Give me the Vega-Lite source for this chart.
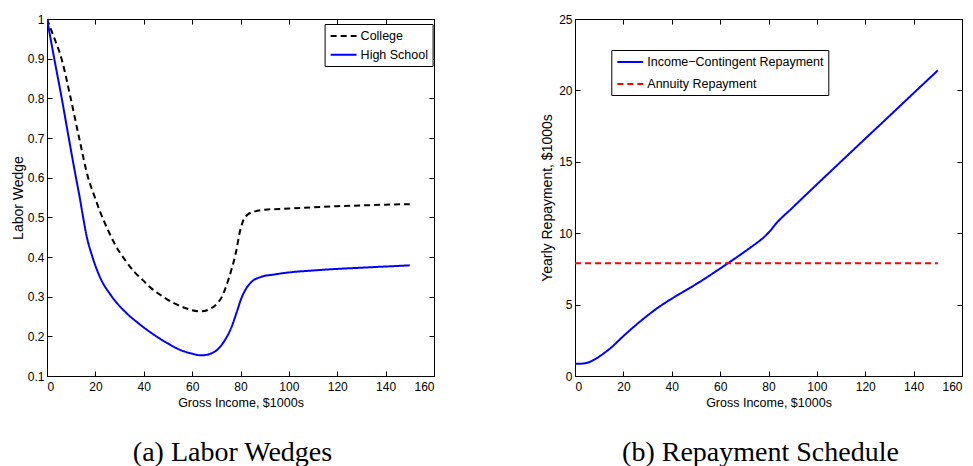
{
  "$schema": "https://vega.github.io/schema/vega-lite/v6.json",
  "background": "white",
  "padding": {"left": 10, "top": 12, "right": 0, "bottom": 0},
  "spacing": 105,
  "config": {
    "view": {"stroke": "black", "strokeWidth": 1},
    "axis": {
      "grid": false, "domainColor": "black", "tickColor": "black",
      "labelColor": "black", "titleColor": "black",
      "labelFont": "Liberation Sans", "titleFont": "Liberation Sans",
      "labelFontSize": 12, "titleFontSize": 12.5, "titleFontWeight": "normal",
      "tickSize": -5, "domainWidth": 1, "tickWidth": 1
    },
    "axisX": {"labelPadding": 10, "titlePadding": 4},
    "axisY": {"labelPadding": 8, "titleFontSize": 14},
    "legend": {
      "symbolType": "M-0.85,0H2.85", "symbolSize": 196, "symbolStrokeWidth": 2,
      "labelFont": "Liberation Sans", "labelFontSize": 12.5, "labelColor": "black", "labelLimit": 0,
      "strokeColor": "black", "fillColor": "white", "padding": 4, "labelOffset": 16
    },
    "title": {"font": "Liberation Serif", "fontSize": 28, "fontWeight": "normal", "color": "black"}
  },
  "hconcat": [
    {
      "width": 387, "height": 357,
      "title": {"text": "(a) Labor Wedges", "orient": "bottom", "frame": "group", "offset": 30, "dx": -8},
      "data": {"values": [
        {"x": 0, "y": 1.0, "series": "College"},
        {"x": 2.5, "y": 0.96, "series": "College"},
        {"x": 6.0, "y": 0.9, "series": "College"},
        {"x": 9.8, "y": 0.8, "series": "College"},
        {"x": 13.3, "y": 0.7, "series": "College"},
        {"x": 17.0, "y": 0.6, "series": "College"},
        {"x": 19.7, "y": 0.552, "series": "College"},
        {"x": 21.7, "y": 0.518, "series": "College"},
        {"x": 25.2, "y": 0.468, "series": "College"},
        {"x": 27.9, "y": 0.434, "series": "College"},
        {"x": 32.8, "y": 0.388, "series": "College"},
        {"x": 36.2, "y": 0.362, "series": "College"},
        {"x": 39.7, "y": 0.341, "series": "College"},
        {"x": 42.4, "y": 0.325, "series": "College"},
        {"x": 47, "y": 0.304, "series": "College"},
        {"x": 52, "y": 0.285, "series": "College"},
        {"x": 56.9, "y": 0.272, "series": "College"},
        {"x": 60, "y": 0.266, "series": "College"},
        {"x": 63.8, "y": 0.263, "series": "College"},
        {"x": 67, "y": 0.268, "series": "College"},
        {"x": 70.7, "y": 0.285, "series": "College"},
        {"x": 72.5, "y": 0.302, "series": "College"},
        {"x": 74.1, "y": 0.327, "series": "College"},
        {"x": 76.2, "y": 0.367, "series": "College"},
        {"x": 78.3, "y": 0.417, "series": "College"},
        {"x": 79.6, "y": 0.46, "series": "College"},
        {"x": 81, "y": 0.49, "series": "College"},
        {"x": 83, "y": 0.507, "series": "College"},
        {"x": 86, "y": 0.515, "series": "College"},
        {"x": 90, "y": 0.519, "series": "College"},
        {"x": 100, "y": 0.522, "series": "College"},
        {"x": 110, "y": 0.525, "series": "College"},
        {"x": 120, "y": 0.528, "series": "College"},
        {"x": 130, "y": 0.53, "series": "College"},
        {"x": 140, "y": 0.532, "series": "College"},
        {"x": 150, "y": 0.533, "series": "College"},
        {"x": 0, "y": 1.0, "series": "High School"},
        {"x": 3, "y": 0.9, "series": "High School"},
        {"x": 6.1, "y": 0.8, "series": "High School"},
        {"x": 9, "y": 0.7, "series": "High School"},
        {"x": 12.1, "y": 0.596, "series": "High School"},
        {"x": 13.5, "y": 0.551, "series": "High School"},
        {"x": 14.8, "y": 0.505, "series": "High School"},
        {"x": 16.3, "y": 0.455, "series": "High School"},
        {"x": 18.7, "y": 0.402, "series": "High School"},
        {"x": 21.7, "y": 0.352, "series": "High School"},
        {"x": 26.6, "y": 0.302, "series": "High School"},
        {"x": 32.8, "y": 0.259, "series": "High School"},
        {"x": 38, "y": 0.232, "series": "High School"},
        {"x": 45.2, "y": 0.2, "series": "High School"},
        {"x": 50, "y": 0.182, "series": "High School"},
        {"x": 55, "y": 0.166, "series": "High School"},
        {"x": 59.5, "y": 0.157, "series": "High School"},
        {"x": 63.8, "y": 0.152, "series": "High School"},
        {"x": 67, "y": 0.155, "series": "High School"},
        {"x": 70.7, "y": 0.168, "series": "High School"},
        {"x": 73.5, "y": 0.19, "series": "High School"},
        {"x": 76.2, "y": 0.222, "series": "High School"},
        {"x": 78.5, "y": 0.262, "series": "High School"},
        {"x": 80.3, "y": 0.295, "series": "High School"},
        {"x": 82.5, "y": 0.322, "series": "High School"},
        {"x": 84.5, "y": 0.337, "series": "High School"},
        {"x": 88.6, "y": 0.35, "series": "High School"},
        {"x": 94, "y": 0.356, "series": "High School"},
        {"x": 100, "y": 0.361, "series": "High School"},
        {"x": 110, "y": 0.366, "series": "High School"},
        {"x": 120, "y": 0.37, "series": "High School"},
        {"x": 130, "y": 0.373, "series": "High School"},
        {"x": 140, "y": 0.376, "series": "High School"},
        {"x": 150, "y": 0.379, "series": "High School"}
      ]},
      "layer": [
        {
          "mark": {"type": "line", "strokeWidth": 2, "clip": true, "interpolate": "monotone"},
          "encoding": {
            "x": {"field": "x", "type": "quantitative",
              "scale": {"domain": [0, 160], "nice": false},
              "axis": {"values": [0, 20, 40, 60, 80, 100, 120, 140, 160], "title": "Gross Income, $1000s"}},
            "y": {"field": "y", "type": "quantitative",
              "scale": {"domain": [0.1, 1], "nice": false, "zero": false},
              "axis": {"values": [0.1, 0.2, 0.3, 0.4, 0.5, 0.6, 0.7, 0.8, 0.9, 1], "format": "~g", "title": "Labor Wedge", "titlePadding": 2}},
            "color": {"field": "series", "type": "nominal",
              "scale": {"domain": ["College", "High School"], "range": ["#000000", "#0000ff"]},
              "legend": {"title": null, "orient": "none", "legendX": 277.6, "legendY": 5, "rowPadding": 3.7}},
            "strokeDash": {"field": "series", "type": "nominal",
              "scale": {"domain": ["College", "High School"], "range": [[6, 4], [1, 0]]},
              "legend": {"title": null, "orient": "none", "legendX": 277.6, "legendY": 5, "rowPadding": 3.7}}
          }
        },
        {
          "mark": {"type": "point", "opacity": 0},
          "encoding": {
            "x": {"field": "x", "type": "quantitative",
              "axis": {"orient": "top", "labels": false, "title": null, "values": [0, 20, 40, 60, 80, 100, 120, 140, 160]}},
            "y": {"field": "y", "type": "quantitative",
              "axis": {"orient": "right", "labels": false, "title": null, "values": [0.1, 0.2, 0.3, 0.4, 0.5, 0.6, 0.7, 0.8, 0.9, 1]}}
          }
        }
      ],
      "resolve": {"axis": {"x": "independent", "y": "independent"}}
    },
    {
      "width": 387, "height": 357,
      "title": {"text": "(b) Repayment Schedule", "orient": "bottom", "frame": "group", "offset": 30, "dx": -8},
      "data": {"values": [
        {"x": 0, "y": 0.85, "series": "Income−Contingent Repayment"},
        {"x": 3, "y": 0.87, "series": "Income−Contingent Repayment"},
        {"x": 6, "y": 0.98, "series": "Income−Contingent Repayment"},
        {"x": 9, "y": 1.25, "series": "Income−Contingent Repayment"},
        {"x": 12, "y": 1.6, "series": "Income−Contingent Repayment"},
        {"x": 15, "y": 2.0, "series": "Income−Contingent Repayment"},
        {"x": 19.6, "y": 2.73, "series": "Income−Contingent Repayment"},
        {"x": 24, "y": 3.4, "series": "Income−Contingent Repayment"},
        {"x": 29.2, "y": 4.13, "series": "Income−Contingent Repayment"},
        {"x": 34, "y": 4.75, "series": "Income−Contingent Repayment"},
        {"x": 38.9, "y": 5.3, "series": "Income−Contingent Repayment"},
        {"x": 45, "y": 5.92, "series": "Income−Contingent Repayment"},
        {"x": 52.7, "y": 6.71, "series": "Income−Contingent Repayment"},
        {"x": 58, "y": 7.3, "series": "Income−Contingent Repayment"},
        {"x": 63.7, "y": 7.95, "series": "Income−Contingent Repayment"},
        {"x": 68, "y": 8.45, "series": "Income−Contingent Repayment"},
        {"x": 72, "y": 8.93, "series": "Income−Contingent Repayment"},
        {"x": 75, "y": 9.3, "series": "Income−Contingent Repayment"},
        {"x": 77.5, "y": 9.63, "series": "Income−Contingent Repayment"},
        {"x": 80.3, "y": 10.09, "series": "Income−Contingent Repayment"},
        {"x": 83, "y": 10.65, "series": "Income−Contingent Repayment"},
        {"x": 90, "y": 11.8, "series": "Income−Contingent Repayment"},
        {"x": 100, "y": 13.42, "series": "Income−Contingent Repayment"},
        {"x": 110, "y": 15.02, "series": "Income−Contingent Repayment"},
        {"x": 120, "y": 16.62, "series": "Income−Contingent Repayment"},
        {"x": 130, "y": 18.21, "series": "Income−Contingent Repayment"},
        {"x": 140, "y": 19.81, "series": "Income−Contingent Repayment"},
        {"x": 150, "y": 21.4, "series": "Income−Contingent Repayment"},
        {"x": 0, "y": 7.9, "series": "Annuity Repayment"},
        {"x": 150, "y": 7.9, "series": "Annuity Repayment"}
      ]},
      "layer": [
        {
          "mark": {"type": "line", "strokeWidth": 2, "clip": true, "interpolate": "monotone"},
          "encoding": {
            "x": {"field": "x", "type": "quantitative",
              "scale": {"domain": [0, 160], "nice": false},
              "axis": {"values": [0, 20, 40, 60, 80, 100, 120, 140, 160], "title": "Gross Income, $1000s"}},
            "y": {"field": "y", "type": "quantitative",
              "scale": {"domain": [0, 25], "nice": false},
              "axis": {"values": [0, 5, 10, 15, 20, 25], "title": "Yearly Repayment, $1000s", "titlePadding": 4}},
            "color": {"field": "series", "type": "nominal",
              "scale": {"domain": ["Income−Contingent Repayment", "Annuity Repayment"], "range": ["#0000ff", "#ff0000"]},
              "legend": {"title": null, "orient": "none", "legendX": 36.3, "legendY": 31, "rowPadding": 7}},
            "strokeDash": {"field": "series", "type": "nominal",
              "scale": {"domain": ["Income−Contingent Repayment", "Annuity Repayment"], "range": [[1, 0], [6, 4]]},
              "legend": {"title": null, "orient": "none", "legendX": 36.3, "legendY": 31, "rowPadding": 7}}
          }
        },
        {
          "mark": {"type": "point", "opacity": 0},
          "encoding": {
            "x": {"field": "x", "type": "quantitative",
              "axis": {"orient": "top", "labels": false, "title": null, "values": [0, 20, 40, 60, 80, 100, 120, 140, 160]}},
            "y": {"field": "y", "type": "quantitative",
              "axis": {"orient": "right", "labels": false, "title": null, "values": [0, 5, 10, 15, 20, 25]}}
          }
        }
      ],
      "resolve": {"axis": {"x": "independent", "y": "independent"}}
    }
  ],
  "resolve": {"scale": {"color": "independent", "strokeDash": "independent"}, "legend": {"color": "independent", "strokeDash": "independent"}}
}
